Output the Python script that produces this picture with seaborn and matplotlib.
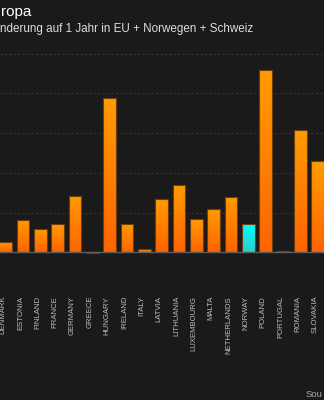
import numpy as np
import matplotlib
matplotlib.use("Agg")
import matplotlib.pyplot as plt
import matplotlib.transforms as mtransforms
from matplotlib.colors import LinearSegmentedColormap
import seaborn as sns

# Year-on-year change (%) per country
countries = ["DENMARK", "ESTONIA", "FINLAND", "FRANCE", "GERMANY", "GREECE",
             "HUNGARY", "IRELAND", "ITALY", "LATVIA", "LITHUANIA", "LUXEMBOURG",
             "MALTA", "NETHERLANDS", "NORWAY", "POLAND", "PORTUGAL", "ROMANIA",
             "SLOVAKIA"]
values = [1.3, 4.1, 2.9, 3.5, 7.1, -0.15,
          19.4, 3.5, 0.35, 6.7, 8.5, 4.2,
          5.5, 7.0, 3.6, 22.9, 0.2, 15.4,
          11.5]
highlight = "NORWAY"

title = "ropa"
subtitle = "nderung auf 1 Jahr in EU + Norwegen + Schweiz"
source = "Sou"

BG = "#1a1a1a"

sns.set_theme(style="dark")
plt.rcParams["font.family"] = ["Liberation Sans", "DejaVu Sans"]

fig = plt.figure(figsize=(3.24, 4.0), dpi=100, facecolor=BG)
ax = fig.add_axes([0.0, 0.269, 1.0, 0.598])
ax.set_facecolor(BG)

sns.barplot(x=countries, y=values, color="#ff8000", width=0.73,
            edgecolor="#6e3c12", linewidth=0.8, ax=ax, zorder=2)

orange = LinearSegmentedColormap.from_list("orange", ["#ff6400", "#ff9c00"])
cyan = LinearSegmentedColormap.from_list("cyan", ["#30cccc", "#00ffff"])
grad = np.linspace(0, 1, 128).reshape(-1, 1)

for name, patch in zip(countries, ax.patches):
    bb = patch.get_bbox()
    cmap = cyan if name == highlight else orange
    im = ax.imshow(grad, extent=[bb.x0, bb.x1, bb.y0, bb.y1], origin="lower",
                   aspect="auto", cmap=cmap, zorder=1.9, interpolation="bilinear")
    im.set_clip_path(patch)
    patch.set_facecolor("none")

ax.set_xlim(-0.323, 18.37)
ax.set_ylim(-5.05, 25.05)

for y in [-5, 5, 10, 15, 20, 25]:
    ax.axhline(y, color="#363636", lw=0.8, ls=(0, (2, 2)), zorder=1)
ax.axhline(0, color="#5e5e5e", lw=1.0, zorder=3)

ax.set_yticks([])
ax.set_xlabel("")
ax.set_ylabel("")
ax.tick_params(axis="x", length=0, pad=2.5, labelsize=5.6, labelcolor="#bbbbbb")
ax.set_xticks(range(len(countries)))
ax.set_xticklabels(countries, rotation=90, va="top", ha="center")
shift = mtransforms.ScaledTranslation(-2.5 / 100, 0, fig.dpi_scale_trans)
for lbl in ax.get_xticklabels():
    lbl.set_transform(lbl.get_transform() + shift)
for s in ax.spines.values():
    s.set_visible(False)

fig.text(0.5 / 324, 1 - 16 / 400, title, ha="left", va="baseline",
         fontsize=11, color="#ffffff")
fig.text(0.5 / 324, 1 - 32 / 400, subtitle, ha="left", va="baseline",
         fontsize=8.4, color="#dddddd")
fig.text(306 / 324, 1 - 397 / 400, source, ha="left", va="baseline",
         fontsize=6.8, color="#aaaaaa")

fig.savefig("out.png", dpi=100, facecolor=BG)
